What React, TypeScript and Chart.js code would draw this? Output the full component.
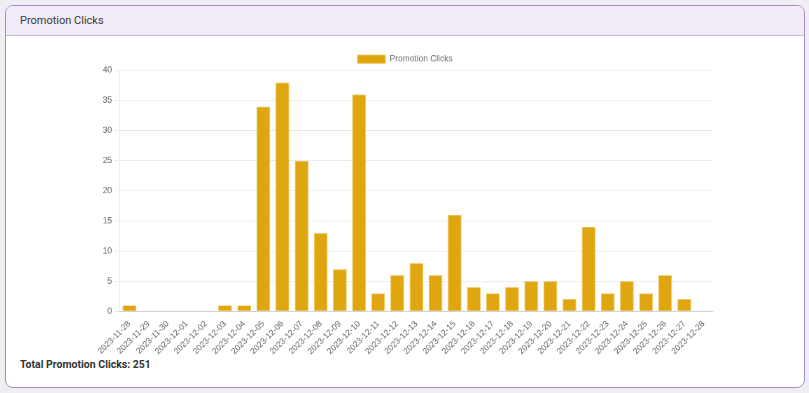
import React, { useEffect, useRef } from "react";
import { Chart, registerables } from "chart.js";

Chart.register(...registerables);

const dates = [
  "2023-11-28", "2023-11-29", "2023-11-30", "2023-12-01", "2023-12-02", "2023-12-03",
  "2023-12-04", "2023-12-05", "2023-12-06", "2023-12-07", "2023-12-08", "2023-12-09",
  "2023-12-10", "2023-12-11", "2023-12-12", "2023-12-13", "2023-12-14", "2023-12-15",
  "2023-12-16", "2023-12-17", "2023-12-18", "2023-12-19", "2023-12-20", "2023-12-21",
  "2023-12-22", "2023-12-23", "2023-12-24", "2023-12-25", "2023-12-26", "2023-12-27",
  "2023-12-28",
];
const clicks = [
  1, 0, 0, 0, 0, 1,
  1, 34, 38, 25, 13, 7,
  36, 3, 6, 8, 6, 16,
  4, 3, 4, 5, 5, 2,
  14, 3, 5, 3, 6, 2,
  0,
];
const seriesLabel = "Promotion Clicks";
const yMax = 40;
const yStep = 5;
const total = clicks.reduce((a, b) => a + b, 0);

const SCALE = 0.7;
const BOX = { left: 97, top: 48, width: 616, height: 310 };

export default function App() {
  const ref = useRef<HTMLCanvasElement>(null);
  useEffect(() => {
    const chart = new Chart(ref.current!, {
      type: "bar",
      data: {
        labels: dates,
        datasets: [
          {
            label: seriesLabel,
            data: clicks,
            backgroundColor: "#E0A60F",
            borderColor: "#EFC75A",
            borderWidth: 1,
          },
        ],
      },
      options: {
        animation: false,
        responsive: true,
        maintainAspectRatio: false,
        plugins: {
          legend: { display: true, position: "top" },
          tooltip: { enabled: false },
        },
        scales: {
          x: {
            grid: { drawOnChartArea: false, color: "rgba(0,0,0,0)" },
            border: { color: "rgba(0,0,0,0.1)" },
            ticks: { autoSkip: false, minRotation: 45, maxRotation: 45 },
          },
          y: {
            beginAtZero: true,
            max: yMax,
            ticks: { stepSize: yStep },
          },
        },
      },
    });
    return () => chart.destroy();
  }, []);

  return (
    <div
      style={{
        position: "absolute",
        left: 0,
        top: 0,
        width: 809,
        height: 393,
        background: "#EFEEF3",
        overflow: "hidden",
      }}
    >
      <div
        style={{
          position: "absolute",
          left: 5,
          top: 5,
          width: 798,
          height: 381,
          border: "1px solid #A98BC8",
          borderRadius: 8,
          background: "#FFFFFF",
          overflow: "hidden",
        }}
      >
        <div
          style={{
            height: 29,
            background: "#F1EAF7",
            borderBottom: "1px solid #CDB6DF",
            fontFamily: "Roboto, sans-serif",
            fontSize: 11,
            color: "#3A3A3A",
            lineHeight: "29px",
            paddingLeft: 14,
          }}
        >
          Promotion Clicks
        </div>
        <div
          style={{
            position: "absolute",
            left: 14,
            top: 352,
            fontFamily: "Roboto, sans-serif",
            fontSize: 10.5,
            fontWeight: "bold",
            color: "#333333",
          }}
        >
          Total Promotion Clicks: {total}
        </div>
      </div>
      <div
        style={{
          position: "absolute",
          left: BOX.left,
          top: BOX.top,
          width: BOX.width,
          height: BOX.height,
        }}
      >
        <div
          style={{
            position: "relative",
            width: BOX.width / SCALE,
            height: BOX.height / SCALE,
            transform: `scale(${SCALE})`,
            transformOrigin: "0 0",
          }}
        >
          <canvas ref={ref} />
        </div>
      </div>
    </div>
  );
}
